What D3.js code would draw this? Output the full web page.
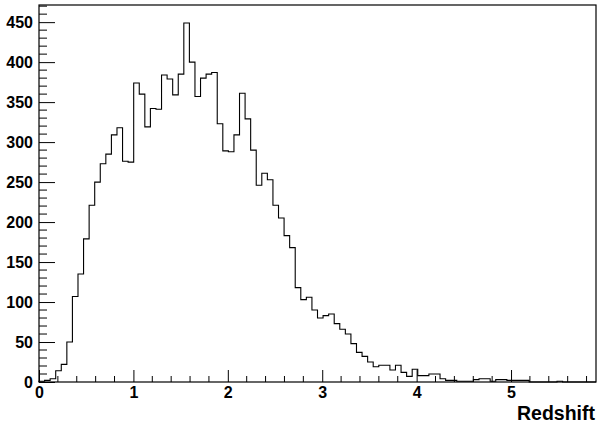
<!DOCTYPE html>
<html>
<head>
<meta charset="utf-8">
<script src="https://cdn.jsdelivr.net/npm/d3@7"></script>
<style>
  html, body { margin: 0; padding: 0; background: #fff; }
  svg { display: block; }
  text { font-family: "Liberation Sans", Arial, Helvetica, sans-serif; font-weight: bold; fill: #000; }
</style>
</head>
<body>
<svg id="chart" width="600" height="425"></svg>
<script>
// ---- data ----
const xMin = 0;
const xMax = 5.9;
const nBins = 100;
const counts = [
  1, 2, 4, 14, 22, 50, 107, 135, 179, 221,
  250, 273, 285, 309, 318, 276, 275, 374, 360, 319,
  342, 341, 384, 379, 359, 385, 449, 400, 357, 380,
  385, 387, 323, 289, 288, 309, 361, 329, 290, 246,
  261, 253, 221, 205, 183, 168, 118, 103, 106, 90,
  80, 83, 85, 73, 66, 60, 48, 37, 32, 25,
  19, 21, 21, 15, 21, 12, 7, 16, 8, 8,
  10, 10, 4, 2, 2, 1, 1, 1, 3, 4,
  4, 1, 3, 3, 2, 2, 2, 2, 0, 0,
  0, 0, 0, 1, 0, 0, 0, 0, 0, 0
];
const xTickValues = [0, 1, 2, 3, 4, 5];
const yTickValues = [0, 50, 100, 150, 200, 250, 300, 350, 400, 450];
const xTitle = "Redshift";

// ---- layout ----
const svg = d3.select("#chart");
const plotL = 39, plotR = 596, plotT = 5, plotB = 382;
const yMax = d3.max(counts) * 1.05;

const x = d3.scaleLinear().domain([xMin, xMax]).range([plotL, plotR]);
const y = d3.scaleLinear().domain([0, yMax]).range([plotB, plotT]);

const binW = (xMax - xMin) / nBins;

// minor ticks
const xMinor = d3.range(0, Math.floor(xMax / 0.2) + 1).map(i => +(i * 0.2).toFixed(2))
  .filter(v => v <= xMax && !xTickValues.includes(v));
const yMinor = d3.range(0, Math.floor(yMax / 10) + 1).map(i => i * 10)
  .filter(v => v % 50 !== 0);

const g = svg.append("g");

g.append("g").selectAll("line").data(xMinor).join("line")
  .attr("x1", d => x(d)).attr("x2", d => x(d))
  .attr("y1", plotB).attr("y2", plotB - 6)
  .attr("stroke", "#000").attr("stroke-width", 1);
g.append("g").selectAll("line").data(yMinor).join("line")
  .attr("x1", plotL).attr("x2", plotL + 8)
  .attr("y1", d => y(d)).attr("y2", d => y(d))
  .attr("stroke", "#000").attr("stroke-width", 1);

const xAxis = d3.axisBottom(x).tickValues(xTickValues).tickSize(-12).tickPadding(5)
  .tickFormat(d3.format("d"));
const yAxis = d3.axisLeft(y).tickValues(yTickValues).tickSize(-16).tickPadding(6)
  .tickFormat(d3.format("d"));

const gx = g.append("g").attr("transform", `translate(0,${plotB})`).call(xAxis);
const gy = g.append("g").attr("transform", `translate(${plotL},0)`).call(yAxis);
[gx, gy].forEach(a => {
  a.select(".domain").remove();
  a.selectAll("line").attr("stroke", "#000");
  a.selectAll("text").attr("font-size", 16).attr("font-family", "Liberation Sans, Arial, sans-serif")
    .attr("font-weight", "bold").attr("fill", "#000");
});

// histogram step path
const pts = [[x(xMin), y(0)]];
counts.forEach((c, i) => {
  const x0 = xMin + i * binW, x1 = xMin + (i + 1) * binW;
  pts.push([x(x0), y(c)]);
  pts.push([x(x1), y(c)]);
});
pts.push([x(xMax), y(0)]);
g.append("path")
  .attr("d", d3.line()(pts))
  .attr("fill", "none")
  .attr("stroke", "#000")
  .attr("stroke-width", 1.1);

// frame
g.append("rect")
  .attr("x", plotL).attr("y", plotT)
  .attr("width", plotR - plotL).attr("height", plotB - plotT)
  .attr("fill", "none").attr("stroke", "#000").attr("stroke-width", 1.2);

// axis title
svg.append("text")
  .attr("x", plotR - 1).attr("y", 420)
  .attr("text-anchor", "end")
  .attr("font-size", 19.5)
  .text(xTitle);
</script>
</body>
</html>
